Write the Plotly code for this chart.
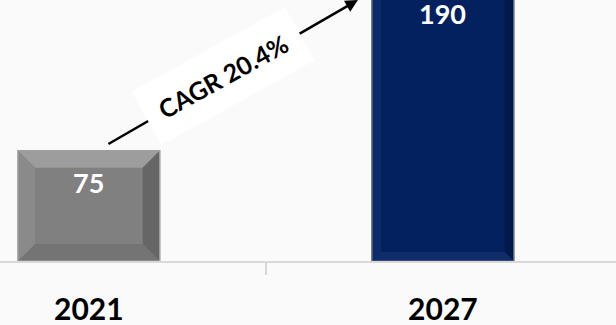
import plotly.graph_objects as go

# Market size by year
years = ["2021", "2027"]
values = [75, 190]
value_labels = ["75", "190"]
cagr_text = "CAGR 20.4%"

# Styling
bar_colors = ["#808080", "#03215e"]
bevel_colors = [
    # top, left, right, bottom
    ["#9d9d9d", "#8a8a8a", "#666666", "#747474"],
    ["#082766", "#0b2b6a", "#011949", "#0e2d6a"],
]
outline_colors = ["#a0a0a0", "#5f687c"]
bar_width = 0.40
bg = "#fafafb"
font_family = "Lato, Open Sans, sans-serif"

# Pixel-to-data scale helpers (plot spans the whole page width)
W, H = 616, 325
MB = 64
x_range = [-0.251, 1.489]
y_range = [0, 177.5]
px_per_x = W / (x_range[1] - x_range[0])
px_per_y = (H - MB) / (y_range[1] - y_range[0])

fig = go.Figure()
fig.add_trace(go.Bar(
    x=years, y=values, width=bar_width,
    marker=dict(color=bar_colors, line=dict(color=outline_colors, width=1.5)),
    hoverinfo="skip",
))

# Bevel edges for each bar, computed from the bar geometry
shapes = []
bevel_px = [17, 9]
for i, v in enumerate(values):
    c = i
    x0, x1 = c - bar_width / 2, c + bar_width / 2
    dx = bevel_px[i] / px_per_x
    dy = bevel_px[i] / px_per_y
    top, left, right, bottom = bevel_colors[i]
    polys = [
        (top, [(x0, v), (x1, v), (x1 - dx, v - dy), (x0 + dx, v - dy)]),
        (left, [(x0, v), (x0 + dx, v - dy), (x0 + dx, dy), (x0, 0)]),
        (right, [(x1, v), (x1 - dx, v - dy), (x1 - dx, dy), (x1, 0)]),
        (bottom, [(x0, 0), (x0 + dx, dy), (x1 - dx, dy), (x1, 0)]),
    ]
    for color, pts in polys:
        path = "M " + " L ".join(f"{px},{py}" for px, py in pts) + " Z"
        shapes.append(dict(type="path", xref="x", yref="y", path=path,
                           fillcolor=color, line=dict(width=0), layer="above"))
    shapes.append(dict(type="rect", xref="x", yref="y", x0=x0, x1=x1, y0=0, y1=v,
                       line=dict(color=outline_colors[i], width=1.2),
                       fillcolor="rgba(0,0,0,0)", layer="above"))

annotations = []
# Value labels just inside the top of each bar (paper y so clipped bars keep their label)
for i, (v, lab) in enumerate(zip(values, value_labels)):
    annotations.append(dict(
        x=i, y=(v - y_range[0]) / (y_range[1] - y_range[0]), xref="x", yref="paper",
        xanchor="center", yanchor="middle",
        text=f"<b>{lab}</b>", showarrow=False, yshift=-32,
        font=dict(family=font_family, size=27, color="white"),
    ))

# Growth arrow from the first bar towards the second
arrow_start = (0.051, values[0] + 4)
arrow_end = (0.76, y_range[1])
annotations.append(dict(
    x=arrow_end[0], y=arrow_end[1], ax=arrow_start[0], ay=arrow_start[1],
    xref="x", yref="y", axref="x", ayref="y", text="", showarrow=True,
    arrowhead=2, arrowsize=1.0, arrowwidth=2.5, arrowcolor="black",
))
# CAGR label box over the arrow
annotations.append(dict(
    x=0.379, y=126, xref="x", yref="y", text=f"<b>{cagr_text}</b>", showarrow=False,
    textangle=-29, bgcolor="white", borderpad=15,
    font=dict(family=font_family, size=25, color="black"),
))

fig.update_layout(
    width=W, height=H,
    margin=dict(l=0, r=0, t=0, b=MB),
    paper_bgcolor=bg, plot_bgcolor=bg,
    showlegend=False,
    shapes=shapes, annotations=annotations,
    xaxis=dict(
        type="category", range=x_range, showgrid=False, zeroline=False,
        showline=True, linecolor="#d9d9d9", linewidth=1.5,
        ticks="outside", tickson="boundaries", ticklen=12, tickcolor="#d9d9d9",
        tickwidth=1.5, ticklabelstandoff=21,
        tickfont=dict(family=font_family, size=30, color="black", weight="bold"),
    ),
    yaxis=dict(range=y_range, visible=False, showgrid=False, zeroline=False),
)

fig.write_html("out.html")
